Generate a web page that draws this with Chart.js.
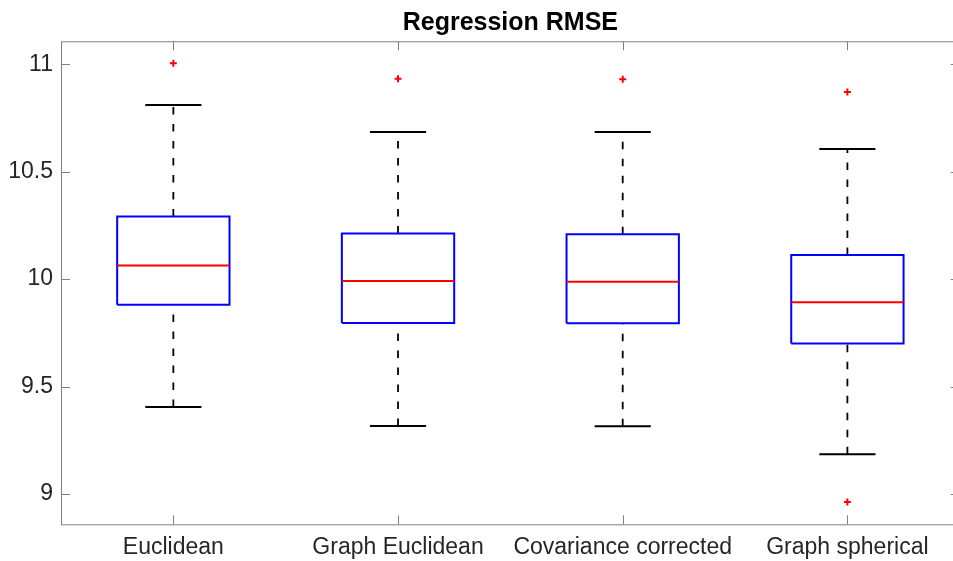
<!DOCTYPE html>
<html>
<head>
<meta charset="utf-8">
<script src="https://cdn.jsdelivr.net/npm/chart.js@4/dist/chart.umd.min.js"></script>
<style>
  html, body { margin: 0; padding: 0; background: #fff; overflow: hidden; }
  canvas { display: block; }
</style>
</head>
<body>
<canvas id="chart" width="953" height="561"></canvas>
<script>
// box plot statistics
const categories = ['Euclidean', 'Graph Euclidean', 'Covariance corrected', 'Graph spherical'];
const lowerWhisker = [9.405, 9.317, 9.315, 9.185];
const q1 = [9.881, 9.796, 9.795, 9.701];
const median = [10.063, 9.991, 9.988, 9.893];
const q3 = [10.291, 10.212, 10.209, 10.112];
const upperWhisker = [10.811, 10.685, 10.685, 10.606];
const outliers = [[11.005], [10.933], [10.930], [10.871, 8.963]];
const yTicks = [9, 9.5, 10, 10.5, 11];
const titleText = 'Regression RMSE';

const FONT = 'Liberation Sans, Arial, Helvetica, sans-serif';
const BOX_HALF = 0.25;
const CAP_HALF = 0.125;
// axes run 0.5 .. 4.5, but the picture is cut a little before the right edge
const X_FRAME_MAX = 4.5;
const X_VIEW_MAX = 4.47;

// builds a list of line pieces, one per category, split by gaps
function pieces(fn) {
    const pts = [];
    categories.forEach((c, i) => {
        fn(i + 1, i).forEach(p => pts.push(p));
        pts.push({ x: null, y: null });
    });
    return pts;
}

const whiskers = pieces((x, i) => [
    { x: x, y: q3[i] }, { x: x, y: upperWhisker[i] }, { x: null, y: null },
    { x: x, y: lowerWhisker[i] }, { x: x, y: q1[i] }
]);
const caps = pieces((x, i) => [
    { x: x - CAP_HALF, y: upperWhisker[i] }, { x: x + CAP_HALF, y: upperWhisker[i] }, { x: null, y: null },
    { x: x - CAP_HALF, y: lowerWhisker[i] }, { x: x + CAP_HALF, y: lowerWhisker[i] }
]);
const boxes = pieces((x, i) => [
    { x: x - BOX_HALF, y: q1[i] }, { x: x + BOX_HALF, y: q1[i] },
    { x: x + BOX_HALF, y: q3[i] }, { x: x - BOX_HALF, y: q3[i] },
    { x: x - BOX_HALF, y: q1[i] }
]);
const medians = pieces((x, i) => [
    { x: x - BOX_HALF, y: median[i] }, { x: x + BOX_HALF, y: median[i] }
]);
const outlierPoints = [];
outliers.forEach((list, i) => list.forEach(v => outlierPoints.push({ x: i + 1, y: v })));

// axes frame with inward ticks and a title centred on the plot, matlab style
const framePlugin = {
    id: 'frame',
    afterDraw(chart) {
        const { ctx, chartArea: a, scales } = chart;
        const len = 9;
        const right = scales.x.getPixelForValue(X_FRAME_MAX);
        ctx.save();
        ctx.strokeStyle = '#808080';
        ctx.lineWidth = 1;
        ctx.strokeRect(a.left + 0.5, a.top + 0.5, right - a.left, a.bottom - a.top);
        ctx.beginPath();
        yTicks.forEach(v => {
            const py = Math.round(scales.y.getPixelForValue(v)) + 0.5;
            ctx.moveTo(a.left, py); ctx.lineTo(a.left + len, py);
            ctx.moveTo(right, py); ctx.lineTo(right - len, py);
        });
        categories.forEach((c, i) => {
            const px = Math.round(scales.x.getPixelForValue(i + 1)) + 0.5;
            ctx.moveTo(px, a.bottom); ctx.lineTo(px, a.bottom - len);
            ctx.moveTo(px, a.top); ctx.lineTo(px, a.top + len);
        });
        ctx.stroke();

        ctx.fillStyle = '#000000';
        ctx.font = 'bold 25px ' + FONT;
        ctx.textAlign = 'center';
        ctx.textBaseline = 'alphabetic';
        ctx.fillText(titleText, (a.left + right) / 2, 30);
        ctx.restore();
    }
};

const lineDefaults = { showLine: true, pointRadius: 0, pointHoverRadius: 0, fill: false, tension: 0 };

new Chart(document.getElementById('chart').getContext('2d'), {
    type: 'scatter',
    data: {
        datasets: [
            {
                label: 'Outliers', data: outlierPoints,
                pointStyle: 'cross', pointRadius: 3.5, borderColor: '#ff0000', borderWidth: 2, showLine: false
            },
            Object.assign({ label: 'Median', data: medians, borderColor: '#ff0000', borderWidth: 2 }, lineDefaults),
            Object.assign({ label: 'Box', data: boxes, borderColor: '#0000ff', borderWidth: 2 }, lineDefaults),
            Object.assign({ label: 'Caps', data: caps, borderColor: '#000000', borderWidth: 2 }, lineDefaults),
            Object.assign({ label: 'Whiskers', data: whiskers, borderColor: '#000000', borderWidth: 1.8, borderDash: [7.5, 9.5] }, lineDefaults)
        ]
    },
    options: {
        responsive: false,
        animation: false,
        layout: { autoPadding: false, padding: { left: 0, right: 0, top: 41.3, bottom: 0 } },
        plugins: {
            legend: { display: false },
            tooltip: { enabled: false },
            title: { display: false }
        },
        scales: {
            x: {
                type: 'linear',
                min: 0.5,
                max: X_VIEW_MAX,
                grid: { display: false, drawTicks: false },
                border: { display: false },
                afterBuildTicks: s => { s.ticks = categories.map((c, i) => ({ value: i + 1 })); },
                afterFit: s => { s.height = 36.7; },
                ticks: {
                    autoSkip: false,
                    maxRotation: 0,
                    padding: 10,
                    color: '#262626',
                    font: { family: FONT, size: 23 },
                    callback: v => categories[v - 1]
                }
            },
            y: {
                min: 8.859,
                max: 11.107,
                grid: { display: false, drawTicks: false },
                border: { display: false },
                afterBuildTicks: s => { s.ticks = yTicks.map(v => ({ value: v })); },
                afterFit: s => { s.width = 61; },
                ticks: {
                    padding: 8,
                    color: '#262626',
                    font: { family: FONT, size: 23 },
                    callback: v => String(v)
                }
            }
        }
    },
    plugins: [framePlugin]
});
</script>
</body>
</html>
